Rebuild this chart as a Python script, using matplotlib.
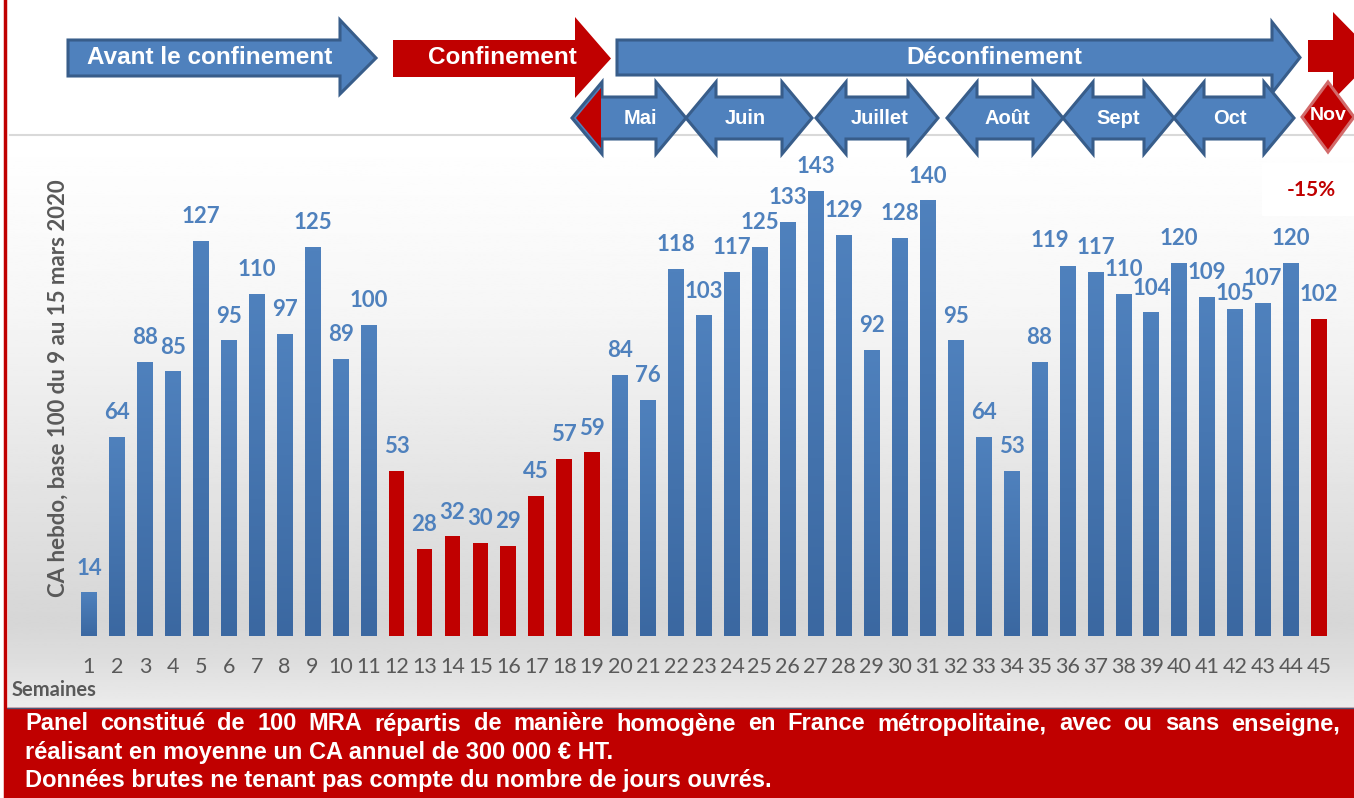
import numpy as np
import matplotlib.pyplot as plt
from matplotlib.patches import Polygon, Rectangle
from matplotlib.colors import LinearSegmentedColormap

# semaines et CA hebdo (base 100)
semaines = list(range(1, 46))
valeurs = [14, 64, 88, 85, 127, 95, 110, 97, 125, 89, 100,
           53, 28, 32, 30, 29, 45, 57, 59,
           84, 76, 118, 103, 117, 125, 133, 143, 129, 92, 128, 140, 95, 64, 53,
           88, 119, 117, 110, 104, 120, 109, 105, 107, 120, 102]
semaines_confinement = [12, 13, 14, 15, 16, 17, 18, 19, 45]

periodes = ["Avant le confinement", "Confinement", "Déconfinement"]
mois = ["Mai", "Juin", "Juillet", "Août", "Sept", "Oct"]

note_l1 = ("Panel constitué de 100 MRA répartis de manière homogène en France "
           "métropolitaine, avec ou sans enseigne,")
note_l2 = "réalisant en moyenne un CA annuel de 300 000 € HT."
note_l3 = "Données brutes ne tenant pas compte du nombre de jours ouvrés."

BLEU = "#4F81BD"
BORD = "#385D8A"
ROUGE = "#C00000"
GRIS = "#595959"
ARIAL = ["Liberation Sans Narrow", "Liberation Sans", "DejaVu Sans"]
CALIBRI = ["Lato", "DejaVu Sans"]

# decalages manuels de quelques etiquettes (points)
decalage = {36: (-13, 18), 42: (0, 11)}

W, H = 1354, 798
fig = plt.figure(figsize=(W / 100, H / 100), dpi=100)

# axe de fond en pixels (decor)
bg = fig.add_axes([0, 0, 1, 1], zorder=0)
bg.set_xlim(0, W)
bg.set_ylim(H, 0)
bg.axis("off")

# degrade gris du fond
rows = np.interp(np.linspace(0, 1, 300), [0, 0.3, 0.65, 0.85, 0.92, 1.0],
                 [1.0, 0.965, 0.885, 0.84, 0.87, 0.925])
grad = np.repeat(rows[:, None], 2, axis=1)
bg.imshow(grad, cmap="gray", vmin=0, vmax=1, extent=[8, W, 708, 137],
          aspect="auto", zorder=0)
bg.add_patch(Rectangle((1262, 163), 92, 52, color="white", zorder=1))
bg.plot([10, W], [135, 135], color="#d9d9d9", lw=1.5, zorder=1)
bg.plot([5, 5], [0, H], color=ROUGE, lw=2.5, zorder=3)

# bandeau rouge
bg.add_patch(Rectangle((7, 708), W, 95, color=ROUGE, zorder=2))
bg.plot([7, W], [708, 708], color="#4A5A7A", lw=1, zorder=2)


def fleche(x0, x1, xh, yt, yb, ht, hb, col, ec=None):
    ym = (yt + yb) / 2
    pts = [(x0, yt), (xh, yt), (xh, ht), (x1, ym), (xh, hb), (xh, yb), (x0, yb)]
    bg.add_patch(Polygon(pts, closed=True, fc=col,
                         ec=ec if ec else col, lw=2.2 if ec else 0, zorder=4,
                         joinstyle="miter"))


fleche(68, 376, 340, 40, 76, 20, 94, BLEU, BORD)
fleche(393, 611, 575, 40, 77, 17, 98, ROUGE)
fleche(617, 1300, 1272, 40, 75, 22, 93, BLEU, BORD)
fleche(1308, 1376, 1333, 40, 72, 12, 100, ROUGE)
for txt, xc in zip(periodes, [210, 502, 994]):
    bg.text(xc, 58, txt, color="white", fontsize=17.5, fontweight="bold",
            family=ARIAL, ha="center", va="center", zorder=5)


def double_fleche(xl, xr, col_g=None):
    yc, h, bb, hh = 118, 30, 21, 36
    pts = [(xl, yc), (xl + h, yc - hh), (xl + h, yc - bb), (xr - h, yc - bb),
           (xr - h, yc - hh), (xr, yc), (xr - h, yc + hh), (xr - h, yc + bb),
           (xl + h, yc + bb), (xl + h, yc + hh)]
    bg.add_patch(Polygon(pts, closed=True, fc=BLEU, ec=BORD, lw=2.2,
                         zorder=4, joinstyle="miter"))
    if col_g:
        bg.add_patch(Polygon([(xl + 4, yc), (xl + h - 1, yc - hh + 6),
                              (xl + h - 1, yc + hh - 6)], closed=True,
                             fc=col_g, lw=0, zorder=5))


bornes = [(572, 686), (686, 812), (816, 938), (947, 1063), (1063, 1174),
          (1174, 1294)]
centres = [640, 745, 880, 1007, 1118, 1230]
for i, (m, (xl, xr), xc) in enumerate(zip(mois, bornes, centres)):
    double_fleche(xl, xr, ROUGE if i == 0 else None)
    bg.text(xc, 119, m, color="white", fontsize=14.5, fontweight="bold",
            family=ARIAL, ha="center", va="center", zorder=6)
bg.add_patch(Polygon([(1302, 117), (1328, 82), (1354, 117), (1328, 152)],
                     closed=True, fc=ROUGE, ec="#D26A6A", lw=2.2, zorder=4))
bg.text(1328, 116, "Nov", color="white", fontsize=14, fontweight="bold",
        family=ARIAL, ha="center", va="center", zorder=6)

# axe des barres
ax = fig.add_axes([75 / W, 1 - 636 / H, (1333 - 75) / W, (636 - 135) / H],
                  zorder=2)
ax.patch.set_alpha(0)
couleurs = [ROUGE if s in semaines_confinement else BLEU for s in semaines]
barres = ax.bar(semaines, valeurs, width=0.56, color=couleurs, zorder=2)

# degrade vertical des barres bleues
cm_bleu = LinearSegmentedColormap.from_list("b", ["#3B68A1", "#4F81BD"])
g = np.linspace(0, 1, 100)[::-1, None]
for b, s in zip(barres, semaines):
    if s in semaines_confinement:
        continue
    im = ax.imshow(g, cmap=cm_bleu, aspect="auto", zorder=3,
                   extent=[b.get_x(), b.get_x() + b.get_width(), 0,
                           b.get_height()])
    im.set_clip_path(b)

for s, v in zip(semaines, valeurs):
    dx, dy = decalage.get(s, (0, 17.5))
    ax.annotate(str(v), (s, v), xytext=(dx, dy), textcoords="offset points",
                ha="center", va="center", color=BLEU, fontsize=16,
                fontweight="bold", family=CALIBRI, zorder=4)
ax.set_xlim(0.5, 45.5)
ax.set_ylim(0, 161)
ax.set_xticks(semaines)
ax.set_xticklabels([str(s) for s in semaines], color=GRIS, fontsize=15.5,
                   family=CALIBRI)
ax.tick_params(axis="x", length=0, pad=15)
ax.set_yticks([])
for sp in ax.spines.values():
    sp.set_visible(False)

bg.text(58, 388, "CA hebdo, base 100 du 9 au 15 mars 2020", rotation=90,
        color=GRIS, fontsize=16, fontweight="bold", family=CALIBRI,
        ha="center", va="center", zorder=5)
bg.text(12, 690, "Semaines", color=GRIS, fontsize=14.5, fontweight="bold",
        family=CALIBRI, ha="left", va="center", zorder=5)
bg.text(1311, 190, "-15%", color=ROUGE, fontsize=15, fontweight="bold",
        family=CALIBRI, ha="center", va="center", zorder=5)

# texte du bandeau, premiere ligne justifiee
kw = dict(color="white", fontsize=17, fontweight="bold", family=ARIAL,
          va="center", zorder=6)
mots = [bg.text(0, 724, m, ha="left", **kw) for m in note_l1.split()]
bg.text(25, 752, note_l2, ha="left", **kw)
bg.text(25, 780, note_l3, ha="left", **kw)
fig.canvas.draw()
rend = fig.canvas.get_renderer()
larg = [t.get_window_extent(rend).width for t in mots]
ecart = (1340 - 25 - sum(larg)) / (len(mots) - 1)
x = 25
for t, w in zip(mots, larg):
    t.set_x(x)
    x += w + ecart

fig.savefig("out.png", dpi=100)
